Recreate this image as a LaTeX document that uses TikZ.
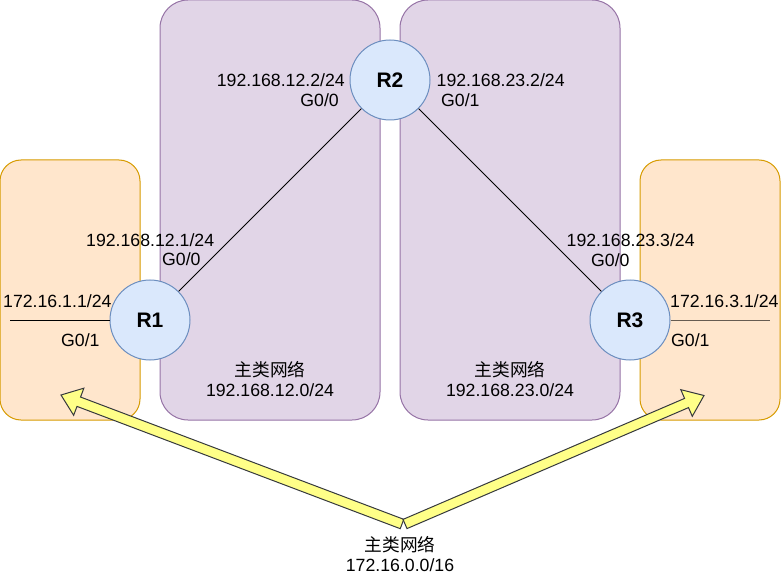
\documentclass[tikz,border=0pt]{standalone}
\usepackage{fontspec}
\setmainfont{Liberation Sans}
\newfontfamily\cjk{Noto Sans CJK SC}
\usetikzlibrary{calc}
\definecolor{orfill}{HTML}{FFE6CC}
\definecolor{ordraw}{HTML}{D79B00}
\definecolor{pufill}{HTML}{E1D5E7}
\definecolor{pudraw}{HTML}{9673A6}
\definecolor{blfill}{HTML}{DAE8FC}
\definecolor{bldraw}{HTML}{6C8EBF}
\definecolor{yefill}{HTML}{FFFF88}
\definecolor{yedraw}{HTML}{36393D}
\newcommand\flexarr[3]{%
  \coordinate (#3b) at ($(#2)!19pt!(#1)$);
  \draw[yarrow] ($(#1)!5pt!90:(#2)$) -- ($(#3b)!5pt!90:(#2)$) -- ($(#3b)!14.5pt!90:(#2)$) -- (#2)
    -- ($(#3b)!14.5pt!-90:(#2)$) -- ($(#3b)!5pt!-90:(#2)$) -- ($(#1)!5pt!-90:(#2)$) -- cycle;}
\begin{document}
\begin{tikzpicture}[x=1pt,y=-1pt,
  orbox/.style={draw=ordraw, fill=orfill, line width=1pt, rounded corners=21pt, rectangle, inner sep=0pt},
  pubox/.style={draw=pudraw, fill=pufill, line width=1pt, rounded corners=28pt, rectangle, inner sep=0pt},
  router/.style={circle, draw=bldraw, fill=blfill, line width=1pt, minimum size=80pt, inner sep=0pt,
    font=\fontsize{21}{24}\selectfont\bfseries},
  lbl/.style={inner sep=0pt, font=\fontsize{17.7}{20}\selectfont},
  cjklbl/.style={inner sep=0pt, font=\fontsize{17.7}{20}\selectfont\cjk},
  link/.style={draw=black, line width=1pt},
  yarrow/.style={draw=yedraw, fill=yefill, line width=1pt, line join=miter}]
\useasboundingbox (0,0) rectangle (781,577);
% boxes
\node[orbox, minimum width=140pt, minimum height=260pt] (LA) at (70,290) {};
\node[pubox, minimum width=220pt, minimum height=420pt] (N12) at (270,210) {};
\node[pubox, minimum width=220pt, minimum height=420pt] (N23) at (510,210) {};
\node[orbox, minimum width=140pt, minimum height=260pt] (LC) at (710,290) {};
% routers
\node[router] (R1) at (150,320) {R1};
\node[router] (R2) at (390,80) {R2};
\node[router] (R3) at (630,320) {R3};
% links
\coordinate (L1) at (10,320);
\coordinate (L3) at (770,320);
\draw[link] (R1) -- (R2);
\draw[link] (R2) -- (R3);
\draw[link] (L1) -- (R1.west);
\draw[link, draw opacity=0.6] (R3.east) -- (L3);
% labels
\node[lbl, anchor=east] (t1) at (345,80) {192.168.12.2/24};
\node[lbl, anchor=east] (t2) at (339,100.5) {G0/0};
\node[lbl, anchor=west] (t3) at (436.5,80) {192.168.23.2/24};
\node[lbl, anchor=west] (t4) at (441,100.5) {G0/1};
\node[lbl, anchor=west] (t5) at (86,240) {192.168.12.1/24};
\node[lbl, anchor=west] (t6) at (162,259) {G0/0};
\node[lbl, anchor=west] (t7) at (3,301) {172.16.1.1/24};
\node[lbl, anchor=west] (t8) at (61,340) {G0/1};
\node[lbl, anchor=west] (t9) at (566.5,240) {192.168.23.3/24};
\node[lbl, anchor=west] (t10) at (591,260) {G0/0};
\node[lbl, anchor=west] (t11) at (670,301) {172.16.3.1/24};
\node[lbl, anchor=west] (t12) at (671,340) {G0/1};
\node[cjklbl] (n1a) at (270,370) {主类网络};
\node[lbl] (n1b) at (270,390) {192.168.12.0/24};
\node[cjklbl] (n2a) at (510,370) {主类网络};
\node[lbl] (n2b) at (510,390) {192.168.23.0/24};
\node[cjklbl] (n3a) at (400,545) {主类网络};
\node[lbl] (n3b) at (400,565) {172.16.0.0/16};
% arrows
\coordinate (A1tail) at (402,524);
\coordinate (A1tip) at (61,395);
\coordinate (A2tail) at (405,524);
\coordinate (A2tip) at (704,395.5);
\flexarr{A1tail}{A1tip}{A1}
\flexarr{A2tail}{A2tip}{A2}
\end{tikzpicture}
\end{document}
